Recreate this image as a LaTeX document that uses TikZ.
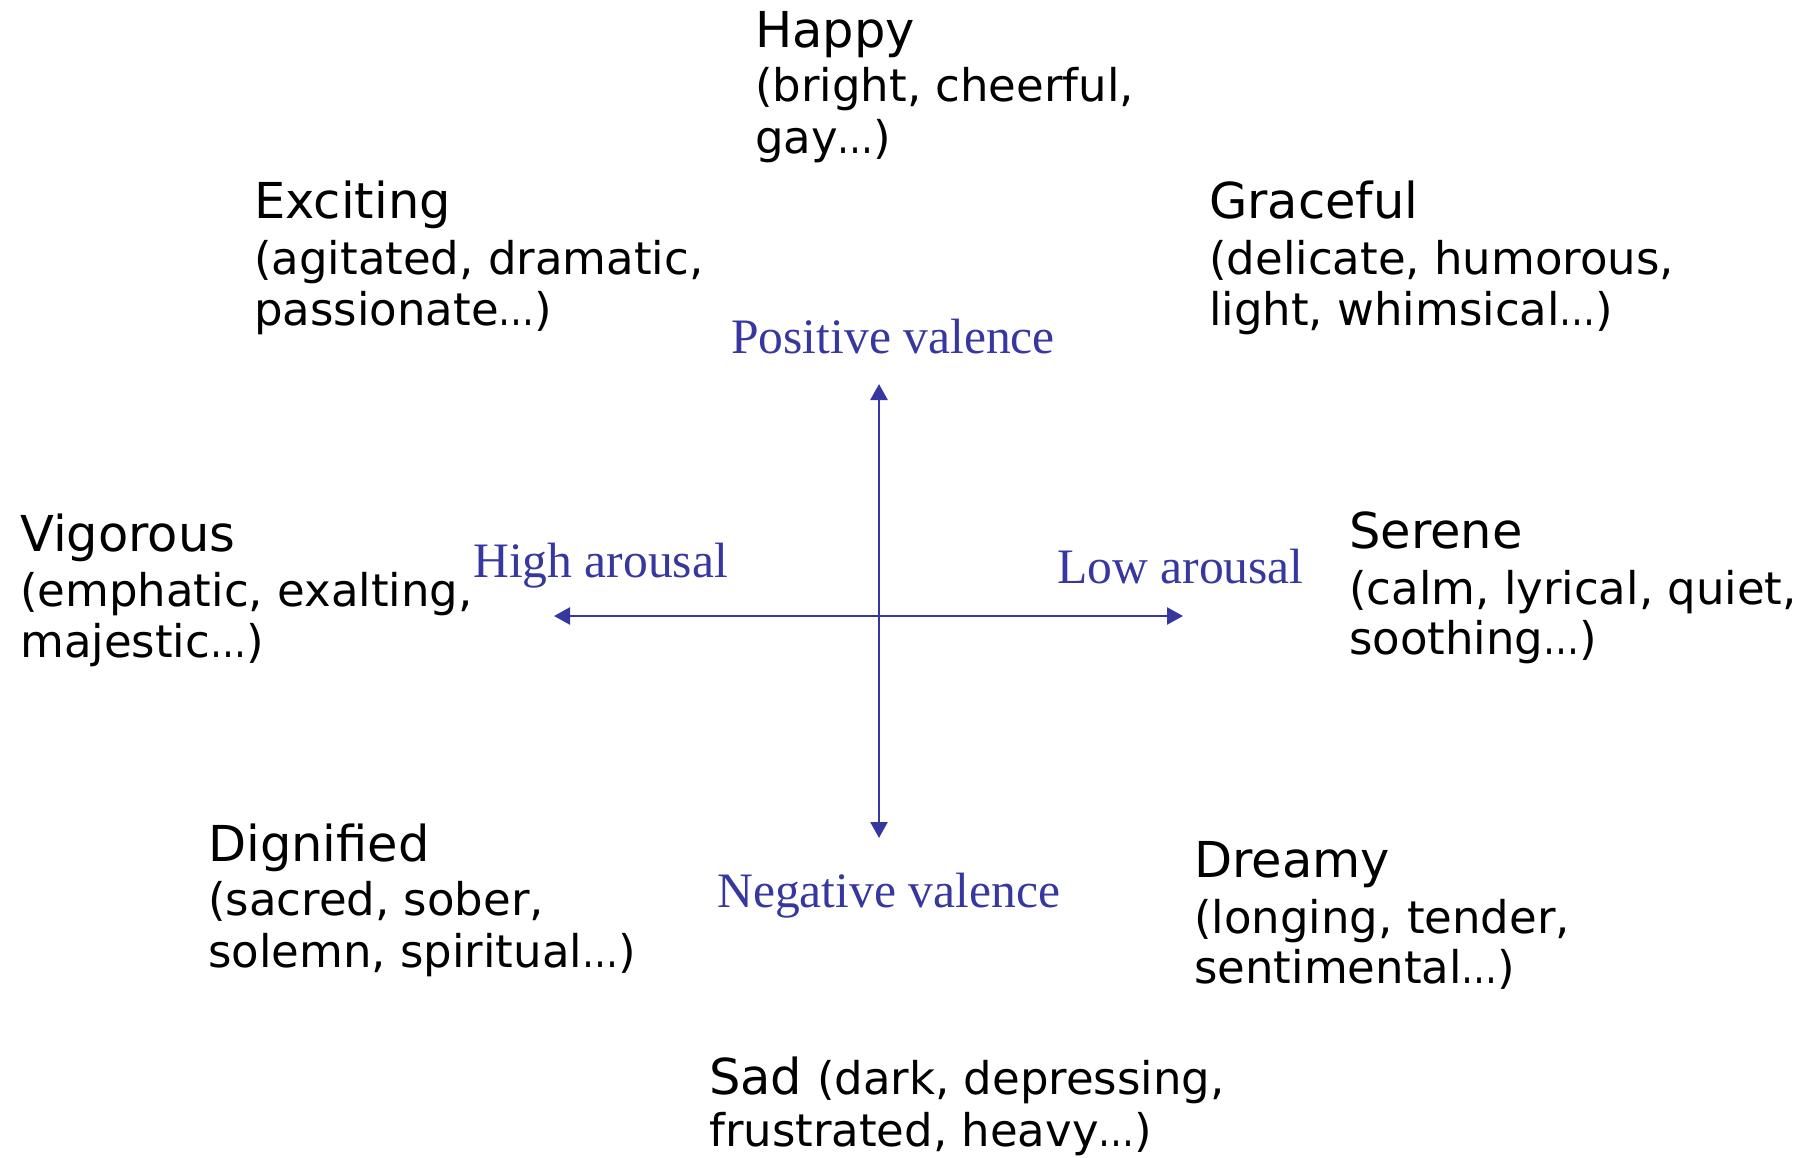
\documentclass[tikz,border=0pt]{standalone}
\usepackage{fontspec}
\usepackage{graphicx}
\setmainfont{DejaVu Sans}
\newfontfamily\axisfont{Liberation Serif}
\usetikzlibrary{arrows.meta}
\definecolor{axisblue}{RGB}{55,55,160}
% a slightly narrower ellipsis
\newcommand{\etcdots}{\scalebox{0.8}[1]{…}}
\tikzset{
  head/.style={anchor=base west, inner sep=0pt, font=\fontsize{49.5}{56}\selectfont},
  sub/.style={anchor=base west, inner sep=0pt, font=\fontsize{45}{52}\selectfont},
  axislabel/.style={anchor=base west, inner sep=0pt, text=axisblue, font=\axisfont\fontsize{49.6}{56}\selectfont},
  axisline/.style={draw=axisblue, line width=2.5pt, -{Triangle[length=16pt,width=17pt]}}
}
\begin{document}
\begin{tikzpicture}[x=1pt,y=-1pt]
\useasboundingbox (0,0) rectangle (1810,1158);

% mood categories
\node[head] (happyH) at (755,48) {Happy};
\node[sub]  (happyA) at (755,102) {(bright, cheerful,};
\node[sub]  (happyB) at (755,154) {gay\etcdots)};

\node[head] (excH) at (254,219) {Exciting};
\node[sub]  (excA) at (254,275) {(agitated, dramatic,};
\node[sub]  (excB) at (254,326) {passionate\etcdots)};

\node[head] (graH) at (1209,219) {Graceful};
\node[sub]  (graA) at (1209,275) {(delicate, humorous,};
\node[sub]  (graB) at (1209,326) {light, whimsical\etcdots)};

\node[head] (vigH) at (20,551) {Vigorous};
\node[sub]  (vigA) at (20,606) {(emphatic, exalting,};
\node[sub]  (vigB) at (20,657) {majestic\etcdots)};

\node[head] (serH) at (1349,548) {Serene};
\node[sub]  (serA) at (1349,604) {(calm, lyrical, quiet,};
\node[sub]  (serB) at (1349,654) {soothing\etcdots)};

\node[head] (digH) at (208,861) {Dignified};
\node[sub]  (digA) at (208,915) {(sacred, sober,};
\node[sub]  (digB) at (208,967) {solemn, spiritual\etcdots)};

\node[head] (drmH) at (1194,877) {Dreamy};
\node[sub]  (drmA) at (1194,933) {(longing, tender,};
\node[sub]  (drmB) at (1194,983) {sentimental\etcdots)};

\node[head] (sadH) at (709,1094) {Sad};
\node[sub, anchor=base west] (sadA) at (sadH.base east) {\ (dark, depressing,};
\node[sub]  (sadB) at (709,1146) {frustrated, heavy\etcdots)};

% axes
\coordinate (top) at (879,384);
\coordinate (bottom) at (879,838);
\coordinate (left) at (554,616);
\coordinate (right) at (1183,616);
\coordinate (centre) at (879,616);
\draw[axisline] (centre) -- (top);
\draw[axisline] (centre) -- (bottom);
\draw[axisline] (centre) -- (left);
\draw[axisline] (centre) -- (right);

\node[axislabel] (posv) at (731,353) {Positive valence};
\node[axislabel] (negv) at (717,907) {Negative valence};
\node[axislabel] (high) at (473,577) {High arousal};
\node[axislabel] (low)  at (1057,583) {Low arousal};
\end{tikzpicture}
\end{document}
